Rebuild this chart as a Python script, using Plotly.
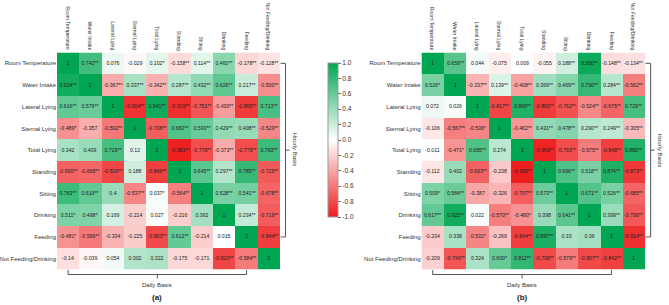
import plotly.graph_objects as go

labels = ["Room Temperature", "Water Intake", "Lateral Lying", "Sternal Lying", "Total Lying",
          "Standing", "Sitting", "Drinking", "Feeding", "Not Feeding/Drinking"]

text_a = [
    ["1", "0.742**", "0.076", "-0.029", "0.102*", "-0.158**", "0.114**", "0.460**", "-0.178**", "-0.128**"],
    ["0.924**", "1", "-0.367**", "0.337**", "-0.342**", "0.287**", "0.432**", "0.626**", "0.217**", "-0.500**"],
    ["0.616**", "0.579**", "1", "-0.904**", "0.941**", "-0.919**", "-0.751**", "-0.430**", "-0.865**", "0.713**"],
    ["-0.489*", "-0.357", "-0.592**", "1", "-0.708**", "0.682**", "0.593**", "0.429**", "0.408**", "-0.529**"],
    ["0.342", "0.409", "0.729**", "0.12", "1", "-0.983**", "-0.778**", "-0.373**", "-0.779**", "0.763**"],
    ["-0.690**", "-0.668**", "-0.816**", "0.188", "-0.849**", "1", "0.645**", "0.297**", "0.785**", "-0.725**"],
    ["0.763**", "0.619**", "0.4", "-0.537**", "0.037*", "-0.564**", "1", "0.528**", "0.541**", "-0.678**"],
    ["0.511*", "0.498*", "0.169", "-0.214", "0.027", "-0.216", "0.362", "1", "0.234**", "-0.719**"],
    ["-0.481*", "-0.596**", "-0.334", "-0.225", "-0.803**", "0.612**", "-0.214", "0.015", "1", "-0.844**"],
    ["-0.14", "-0.039", "0.054", "0.302", "0.322", "-0.175", "-0.171", "-0.820**", "-0.584**", "1"],
]

text_b = [
    ["1", "0.659**", "0.044", "-0.075", "0.009", "-0.055", "0.188**", "0.950**", "-0.148**", "-0.134**"],
    ["0.526*", "1", "-0.337**", "0.139**", "-0.408**", "0.369**", "0.469**", "0.790**", "0.284**", "-0.562**"],
    ["0.072", "0.026", "1", "-0.817**", "0.869**", "-0.865**", "-0.762**", "-0.524**", "-0.675**", "0.729**"],
    ["-0.106", "-0.567**", "-0.536*", "1", "-0.462**", "0.431**", "0.478**", "0.290**", "0.249**", "-0.305**"],
    ["-0.011", "-0.471*", "0.685**", "0.274", "1", "-0.969**", "-0.793**", "-0.575**", "-0.848**", "0.880**"],
    ["-0.112", "0.402", "-0.693**", "-0.238", "-0.985**", "1", "0.696**", "0.518**", "0.874**", "-0.873**"],
    ["0.509*", "0.584**", "-0.387", "-0.326", "-0.707**", "0.573**", "1", "0.671**", "0.526**", "-0.685**"],
    ["0.617**", "0.925**", "0.022", "-0.570**", "-0.480*", "0.398", "0.641**", "1", "0.399**", "-0.736**"],
    ["-0.234", "0.338", "-0.532*", "-0.269", "-0.844**", "0.897**", "0.33", "0.36", "1", "-0.914**"],
    ["-0.209", "-0.749**", "0.324", "0.600*", "0.812**", "-0.798**", "-0.579**", "-0.807**", "-0.842**", "1"],
]

cbar_vals = [1.0, 0.8, 0.6, 0.4, 0.2, 0.0, -0.2, -0.4, -0.6, -0.8, -1.0]
cbar_text = ["1.0", "0.8", "0.6", "0.4", "0.2", "0.0", "-0.2", "-0.4", "-0.6", "-0.8", "-1.0"]


def to_num(t):
    return [[float(s.replace("*", "")) for s in row] for row in t]


W, H = 669, 305


def px(x):
    return x / W


def py(y):
    return 1 - y / H


FONT = "Liberation Sans, Arial, sans-serif"
idx = list(range(10))

fig = go.Figure()
for k, (txt, xa, ya) in enumerate([(text_a, "x", "y"), (text_b, "x2", "y2")]):
    fig.add_trace(go.Heatmap(
        z=to_num(txt), x=idx, y=idx, text=txt, texttemplate="%{text}",
        textfont=dict(size=5.2, color="#222", family=FONT),
        coloraxis="coloraxis", xaxis=xa, yaxis=ya, hoverinfo="skip",
    ))

colorscale = [[0.0, "#ee1c1c"], [0.5, "#ffffff"], [1.0, "#00a651"]]

axis_common_x = dict(tickmode="array", tickvals=idx, showticklabels=False, showgrid=False, zeroline=False,
                     ticks="", range=[-0.5, 9.5], fixedrange=True)
axis_common_y = dict(tickmode="array", tickvals=idx, ticktext=labels,
                     tickfont=dict(size=6, color="#333", family=FONT), showgrid=False, zeroline=False,
                     ticks="", range=[9.5, -0.5], fixedrange=True)

ydom = [py(269.5), py(52.5)]
fig.update_layout(
    width=W, height=H, margin=dict(l=0, r=0, t=0, b=0),
    paper_bgcolor="white", plot_bgcolor="white",
    font=dict(family=FONT),
    xaxis=dict(domain=[px(53.3), px(277.7)], anchor="y", **axis_common_x),
    yaxis=dict(domain=ydom, anchor="x", **axis_common_y),
    xaxis2=dict(domain=[px(420), px(645)], anchor="y2", **axis_common_x),
    yaxis2=dict(domain=ydom, anchor="x2", **axis_common_y),
    coloraxis=dict(
        colorscale=colorscale, cmin=-1, cmax=1,
        colorbar=dict(
            x=px(326), xanchor="left", xpad=0, y=py(140), yanchor="middle", ypad=0,
            lenmode="pixels", len=154, thicknessmode="pixels", thickness=10,
            outlinewidth=1, outlinecolor="#999",
            tickmode="array", tickvals=cbar_vals, ticktext=cbar_text,
            ticks="outside", ticklen=3, tickcolor="#666",
            tickfont=dict(size=6.5, color="#333", family=FONT),
        ),
    ),
)

shapes = []
annotations = []
line = dict(color="#555", width=1)
for left, right, tag, xa in [(53.3, 277.7, "(a)", "x"), (420, 645, "(b)", "x2")]:
    cw = (right - left) / 10
    top, bot = 52.5, 269.5
    ch = (bot - top) / 10
    # column labels
    for i, lab in enumerate(labels):
        annotations.append(dict(xref=xa, yref="paper", x=i, y=py(51.5), text=lab, textangle=90,
                                showarrow=False, xanchor="center", yanchor="bottom", borderpad=0,
                                font=dict(size=5.1, color="#333", family=FONT)))
    # Hourly basis bracket (rows 0..8)
    y0 = top + 0.5 * ch
    y1 = top + 8.5 * ch
    bx = right + 5.5
    shapes += [
        dict(type="line", xref="paper", yref="paper", x0=px(right + 0.5), x1=px(bx), y0=py(y0), y1=py(y0), line=line),
        dict(type="line", xref="paper", yref="paper", x0=px(right + 0.5), x1=px(bx), y0=py(y1), y1=py(y1), line=line),
        dict(type="line", xref="paper", yref="paper", x0=px(bx), x1=px(bx), y0=py(y0), y1=py(y1), line=line),
        dict(type="line", xref="paper", yref="paper", x0=px(bx), x1=px(bx + 4), y0=py((y0 + y1) / 2), y1=py((y0 + y1) / 2), line=line),
    ]
    annotations.append(dict(xref="paper", yref="paper", x=px(bx + 9), y=py((y0 + y1) / 2),
                            text="Hourly Basis", textangle=90, showarrow=False,
                            font=dict(size=6, color="#333", family=FONT), xanchor="center", yanchor="middle"))
    # Daily basis bracket (cols 0..8)
    x0 = left + 0.5 * cw
    x1 = left + 8.5 * cw
    by = bot + 5
    shapes += [
        dict(type="line", xref="paper", yref="paper", x0=px(x0), x1=px(x0), y0=py(bot + 0.5), y1=py(by), line=line),
        dict(type="line", xref="paper", yref="paper", x0=px(x1), x1=px(x1), y0=py(bot + 0.5), y1=py(by), line=line),
        dict(type="line", xref="paper", yref="paper", x0=px(x0), x1=px(x1), y0=py(by), y1=py(by), line=line),
        dict(type="line", xref="paper", yref="paper", x0=px((x0 + x1) / 2), x1=px((x0 + x1) / 2), y0=py(by), y1=py(by + 4), line=line),
    ]
    annotations.append(dict(xref="paper", yref="paper", x=px((x0 + x1) / 2), y=py(285),
                            text="Daily Basis", showarrow=False,
                            font=dict(size=6, color="#333", family=FONT), xanchor="center", yanchor="middle"))
    annotations.append(dict(xref="paper", yref="paper", x=px((x0 + x1) / 2), y=py(297),
                            text="<b>" + tag + "</b>", showarrow=False,
                            font=dict(size=8, color="#222", family=FONT), xanchor="center", yanchor="middle"))

fig.update_layout(shapes=shapes, annotations=annotations)
fig.write_html("out.html")
